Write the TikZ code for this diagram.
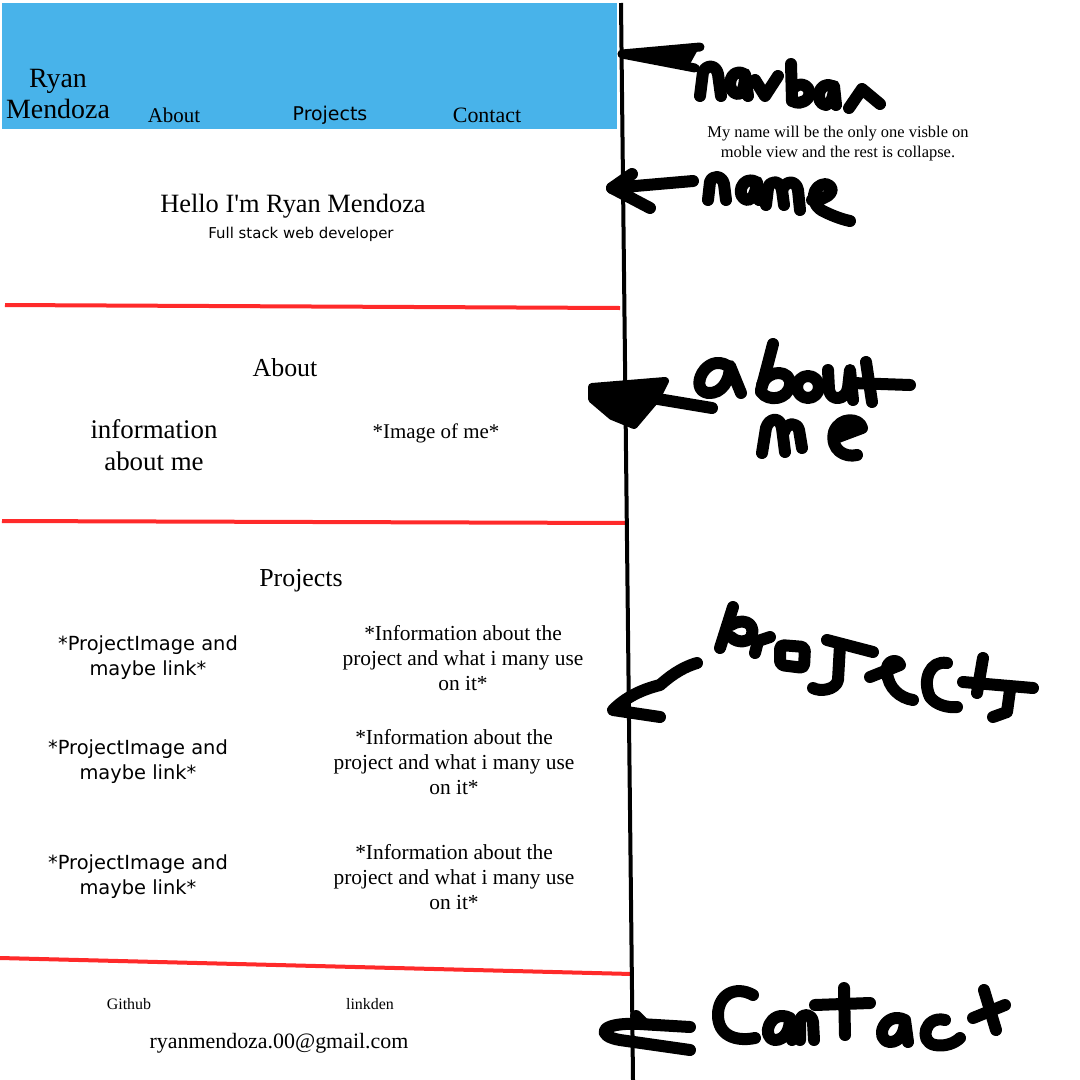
\documentclass[tikz,border=0pt]{standalone}
\usepackage{fontspec}
\setmainfont[Ligatures=TeXOff]{Liberation Serif}
\newfontfamily\sansf{DejaVu Sans}
\definecolor{navblue}{RGB}{72,179,234}
\definecolor{redline}{RGB}{255,42,42}
\tikzset{
  serif/.style 2 args={align=center,inner sep=0pt,font=\fontsize{#1}{#2}\selectfont},
  sansx/.style 2 args={align=center,inner sep=0pt,font=\sansf\fontsize{#1}{#2}\selectfont},
  hw/.style={line width=12bp,line cap=round,line join=round,black},
  divider/.style={line width=4bp,redline},
}
\begin{document}
\begin{tikzpicture}[x=1bp,y=-1bp]
\fill[white] (0,0) rectangle (1080,1080);
\useasboundingbox (0,0) rectangle (1080,1080);
% navbar
\fill[navblue] (2,3) rectangle (617,129);
\node[serif={28}{32}] (brand) at (58,94) {Ryan\\Mendoza};
\node[serif={21}{25}] (navabout) at (174,115) {About};
\node[sansx={19}{23}] (navprojects) at (330,115) {Projects};
\node[serif={22}{26}] (navcontact) at (487,115) {Contact};
% hero
\node[serif={26.5}{30}] (hello) at (293,206) {Hello I'm Ryan Mendoza};
\node[sansx={15}{18}] (fullstack) at (301,234) {Full stack web developer};
% dividers
\draw[divider] (5,305) -- (620,308);
\draw[divider] (2,521) -- (628,523);
\draw[divider] (0,958) -- (632,974);
% about
\node[serif={26}{30}] (abouthead) at (285,368) {About};
\node[serif={27}{32}] (info) at (154,445) {information\\about me};
\node[serif={21}{25}] (image) at (436,433) {*Image of me*};
% projects
\node[serif={26}{30}] (projhead) at (301,581) {Projects};
\node[sansx={19.5}{25}] (pimgA) at (148,658) {*ProjectImage and\\maybe link*};
\node[sansx={19.5}{25}] (pimgB) at (138,762) {*ProjectImage and\\maybe link*};
\node[sansx={19.5}{25}] (pimgC) at (138,877) {*ProjectImage and\\maybe link*};
\node[serif={21.5}{25.5}] (pinfoA) at (463,658) {*Information about the\\project and what i many use\\on it*};
\node[serif={21.5}{25.5}] (pinfoB) at (454,762) {*Information about the\\project and what i many use\\on it*};
\node[serif={21.5}{25.5}] (pinfoC) at (454,877) {*Information about the\\project and what i many use\\on it*};
% contact
\node[serif={16}{19}] (github) at (129,1004) {Github};
\node[serif={16}{19}] (linkden) at (370,1004) {linkden};
\node[serif={22}{26}] (email) at (279,1043) {ryanmendoza.00@gmail.com};
% note
\node[serif={16.5}{20}] (note) at (838,144) {My name will be the only one visble on\\moble view and the rest is collapse.};
% vertical line
\draw[line width=4bp,black] (621,3) -- (633,1080);
% ---- handwriting: navbar
\fill (622,54) -- (700,46) -- (690,64) -- cycle;
\draw[hw,line width=9bp] (700,47) -- (622,54) -- (695,68);
\draw[hw] (700,96) -- (703,72) .. controls (707,64) and (716,65) .. (718,74) -- (721,96);
\draw[hw] (744,74) .. controls (730,66) and (724,92) .. (738,94) .. controls (744,93) and (745,82) .. (745,74) -- (748,96);
\draw[hw] (755,80) -- (765,96) -- (778,76);
\draw[hw] (791,64) -- (792,101);
\draw[hw] (792,90) .. controls (800,78) and (814,88) .. (808,98) .. controls (803,104) and (795,104) .. (792,100);
\draw[hw] (832,86) .. controls (818,80) and (814,104) .. (826,105) .. controls (832,104) and (834,94) .. (834,86) -- (836,105);
\draw[hw] (849,108) -- (862,89) -- (880,104);
% ---- name
\draw[hw] (693,181) -- (612,188) -- (650,208);
\draw[hw] (612,188) -- (632,174);
\draw[hw] (708,200) -- (710,182) .. controls (712,175) and (722,175) .. (724,184) -- (726,200);
\draw[hw] (756,182) .. controls (742,174) and (734,198) .. (748,200) .. controls (754,199) and (756,190) .. (757,182) -- (759,200);
\draw[hw] (766,205) -- (768,188) .. controls (770,180) and (780,180) .. (782,190) -- (784,205);
\draw[hw] (782,190) .. controls (786,180) and (796,180) .. (798,190) -- (800,210);
\draw[hw] (812,200) .. controls (830,200) and (838,188) .. (826,184) .. controls (812,184) and (808,205) .. (825,212) .. controls (835,217) and (845,220) .. (850,221);
% ---- about me
\fill[rounded corners=8bp] (592,387) -- (665,381) -- (656,399) -- (634,425) -- (612,416) -- (592,399) -- cycle;
\draw[hw,line width=8bp] (592,387) -- (665,381) -- (656,399) -- (634,425) -- (612,416) -- (592,399) -- cycle;
\draw[hw] (652,398) -- (712,408);
\draw[hw] (728,366) .. controls (706,352) and (688,390) .. (708,393) .. controls (722,394) and (730,380) .. (730,366) -- (741,393);
\draw[hw] (773,344) -- (761,390);
\draw[hw] (762,385) .. controls (768,368) and (792,370) .. (790,385) .. controls (788,400) and (768,402) .. (761,392);
\draw[hw] (808,387) circle[radius=11];
\draw[hw] (828,370) -- (829,390) .. controls (831,402) and (846,400) .. (848,388) -- (850,370) -- (853,400);
\draw[hw] (866,362) -- (872,402);
\draw[hw] (852,383) -- (910,385);
\draw[hw] (762,453) -- (766,428) .. controls (769,418) and (780,416) .. (782,428) -- (785,452);
\draw[hw] (784,432) .. controls (787,422) and (797,422) .. (799,430) -- (802,448);
\draw[hw] (838,437) -- (862,428) .. controls (860,418) and (840,416) .. (834,432) .. controls (830,450) and (845,458) .. (857,455);
% ---- projects
\draw[hw] (697,663) .. controls (680,668) and (668,678) .. (660,685) .. controls (640,690) and (625,698) .. (613,710) -- (660,717);
\draw[hw] (733,607) -- (720,648);
\draw[hw] (731,625) .. controls (742,618) and (755,622) .. (752,635) .. controls (750,642) and (738,644) .. (731,637);
\draw[hw] (755,653) -- (758,641) -- (770,637);
\draw[hw,rounded corners=4bp] (780,645) -- (805,647) -- (804,668) -- (780,665) -- cycle;
\draw[hw] (827,640) -- (873,652);
\draw[hw] (840,645) -- (838,680) .. controls (836,690) and (820,692) .. (813,688);
\draw[hw] (870,677) -- (900,665) .. controls (898,658) and (885,660) .. (887,672) .. controls (888,688) and (900,698) .. (913,700);
\draw[hw] (947,663) .. controls (930,660) and (922,680) .. (930,697) .. controls (936,705) and (948,708) .. (957,707);
\draw[hw] (983,658) -- (977,693);
\draw[hw] (963,682) -- (1033,688);
\draw[hw] (1010,690) -- (1007,712) -- (993,717);
% ---- contact
\draw[hw] (690,1027) -- (640,1024) .. controls (598,1022) and (596,1036) .. (620,1040) -- (690,1050);
\draw[hw] (636,1016) -- (642,1022);
\draw[hw] (753,995) .. controls (735,985) and (718,995) .. (718,1015) .. controls (718,1035) and (735,1042) .. (755,1038);
\draw[hw] (790,1018) .. controls (770,1008) and (760,1038) .. (775,1040) .. controls (785,1040) and (790,1030) .. (790,1018) -- (792,1040);
\draw[hw] (800,1040) -- (800,1020) .. controls (803,1012) and (812,1014) .. (813,1022) -- (814,1040);
\draw[hw] (844,988) -- (845,1035);
\draw[hw] (815,1005) -- (870,1003);
\draw[hw] (905,1020) .. controls (885,1010) and (873,1040) .. (890,1042) .. controls (900,1042) and (905,1032) .. (905,1020) -- (908,1042);
\draw[hw] (945,1020) .. controls (925,1015) and (918,1042) .. (935,1045) .. controls (945,1047) and (955,1043) .. (960,1038);
\draw[hw] (984,990) -- (996,1030);
\draw[hw] (973,1018) -- (1005,1005);
\end{tikzpicture}
\end{document}
